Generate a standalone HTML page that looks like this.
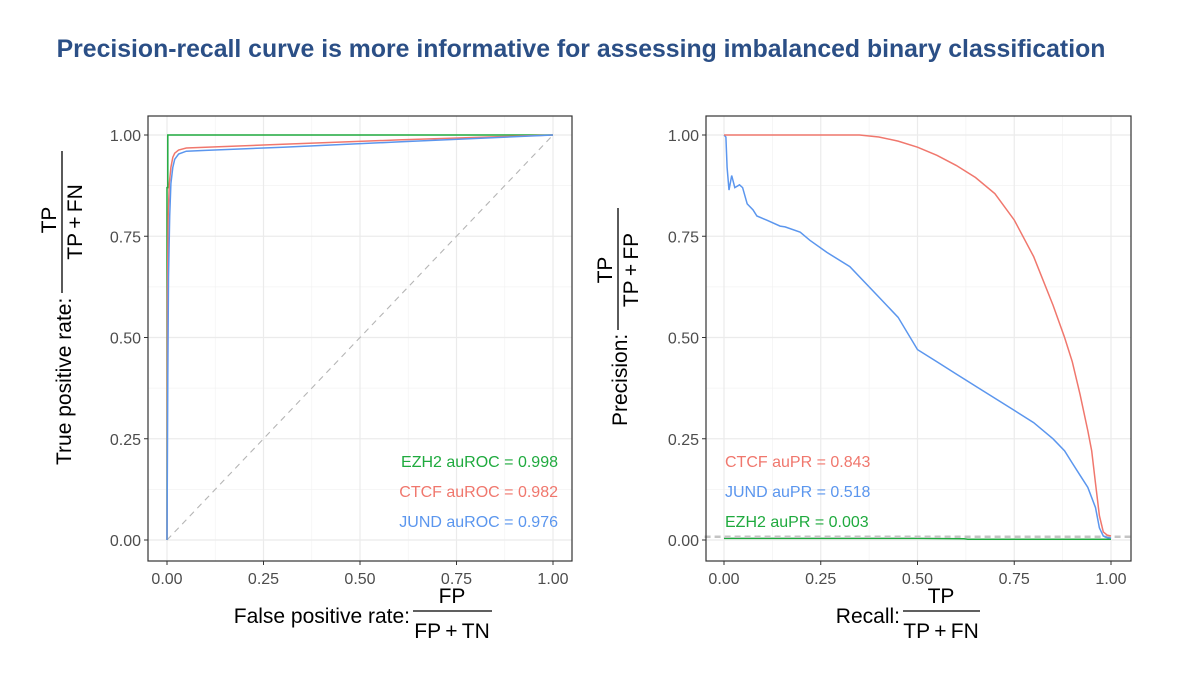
<!DOCTYPE html>
<html><head><meta charset="utf-8"><style>
body{margin:0;background:#fff;}
svg{display:block;font-family:"Liberation Sans",sans-serif;}
</style></head><body>
<svg id="c" width="1200" height="675" viewBox="0 0 1200 675">
<text x="581" y="57" text-anchor="middle" font-size="24.8" font-weight="bold" fill="#2b4f86">Precision-recall curve is more informative for assessing imbalanced binary classification</text>
<g id="roc"></g>
<g id="pr"></g>
</svg>
<script>
const ticks=[0,0.25,0.5,0.75,1];
const tickLabels=["0.00","0.25","0.50","0.75","1.00"];
const rocCtcfX=[0,0.001,0.003,0.006,0.01,0.015,0.02,0.03,0.05,0.1,0.3,0.6,1];
const rocCtcfY=[0,0.6,0.8,0.88,0.92,0.945,0.955,0.963,0.968,0.97,0.977,0.988,1];
const rocJundX=[0,0.002,0.004,0.007,0.01,0.015,0.02,0.03,0.05,0.1,0.3,0.6,1];
const rocJundY=[0,0.4,0.65,0.8,0.88,0.92,0.94,0.953,0.96,0.962,0.97,0.983,1];
const rocEzh2X=[0,0,0.002,0.002,0.01,1];
const rocEzh2Y=[0,0.87,0.87,1,1,1];
const prCtcfX=[0,0.1,0.2,0.3,0.35,0.4,0.45,0.5,0.55,0.6,0.65,0.7,0.75,0.8,0.85,0.88,0.9,0.92,0.94,0.95,0.96,0.97,0.98,0.99,1];
const prCtcfY=[1,1,1,1,1,0.995,0.985,0.97,0.95,0.925,0.895,0.855,0.79,0.7,0.58,0.5,0.44,0.36,0.27,0.22,0.14,0.06,0.02,0.012,0.01];
const prJundX=[0,0.005,0.008,0.013,0.02,0.028,0.04,0.048,0.06,0.075,0.085,0.11,0.145,0.158,0.197,0.222,0.266,0.325,0.4,0.45,0.5,0.55,0.6,0.65,0.7,0.75,0.8,0.85,0.88,0.9,0.92,0.94,0.96,0.97,0.98,0.99,1];
const prJundY=[1,0.995,0.92,0.864,0.9,0.87,0.877,0.87,0.83,0.815,0.8,0.79,0.775,0.773,0.76,0.74,0.71,0.675,0.6,0.55,0.47,0.44,0.41,0.38,0.35,0.32,0.29,0.25,0.22,0.19,0.16,0.13,0.08,0.03,0.01,0.006,0.005];
const prEzh2X=[0,0.5,0.62,0.63,0.88,1];
const prEzh2Y=[0.004,0.004,0.003,0.002,0.002,0.002];
const prBaseline=0.008;
const NS="http://www.w3.org/2000/svg";
function el(p,t,a,txt){const e=document.createElementNS(NS,t);for(const k in a)e.setAttribute(k,a[k]);if(txt!==undefined)e.textContent=txt;p.appendChild(e);return e;}
function panel(g,L,R,T,B,x0,x1,y0,y1,prefix){
 const sx=v=>x0+v*(x1-x0), sy=v=>y0+v*(y1-y0);
 const bg=el(g,'rect',{x:L,y:T,width:R-L,height:B-T,fill:'#fff'});
 
 
 for(let i=0;i<4;i++){const m=(ticks[i]+ticks[i+1])/2;
  let a=el(g,'line',{x1:sx(m),x2:sx(m),y1:T,y2:B,stroke:'#f3f3f3','stroke-width':0.8});
  
  let b=el(g,'line',{x1:L,x2:R,y1:sy(m),y2:sy(m),stroke:'#f3f3f3','stroke-width':0.8});
  }
 ticks.forEach((t,i)=>{
  let a=el(g,'line',{x1:sx(t),x2:sx(t),y1:T,y2:B,stroke:'#ebebeb','stroke-width':1.2});
  
  let b=el(g,'line',{x1:L,x2:R,y1:sy(t),y2:sy(t),stroke:'#ebebeb','stroke-width':1.2});
  
  el(g,'line',{x1:sx(t),x2:sx(t),y1:B,y2:B+4,stroke:'#333'});
  el(g,'line',{x1:L-4,x2:L,y1:sy(t),y2:sy(t),stroke:'#333'});
  let tx=el(g,'text',{x:sx(t),y:B+23,'text-anchor':'middle','font-size':16,fill:'#4d4d4d'},tickLabels[i]);
  
  let ty=el(g,'text',{x:L-7,y:sy(t)+6,'text-anchor':'end','font-size':16,fill:'#4d4d4d'},tickLabels[i]);
  
 });
 return {sx,sy};
}
function line(g,s,xs,ys,color,name,extra){
 const d=xs.map((x,i)=>(i?'L':'M')+s.sx(x).toFixed(1)+','+s.sy(ys[i]).toFixed(1)).join('');
 const p=el(g,'path',Object.assign({d:d,fill:'none',stroke:color,'stroke-width':1.5},extra||{}));
 
 
}
function frame(g,L,R,T,B,prefix){const r=el(g,'rect',{x:L,y:T,width:R-L,height:B-T,fill:'none',stroke:'#333','stroke-width':1.2});
 }
function txt(g,x,y,s,anchor,size,color,name,extra){const t=el(g,'text',Object.assign({x:x,y:y,'text-anchor':anchor,'font-size':size,fill:color},extra||{}),s);
 return t;}
const GREEN='#1faa3e',RED='#f0776d',BLUE='#5b96ee';
const TS='\u2009+\u2009';
// ROC
const g1=document.getElementById('roc');
const s1=panel(g1,148,572,116,561,167,553,540,135,'roc');
line(g1,s1,[0,1],[0,1],'#b5b5b5','roc-diagonal',{'stroke-dasharray':'6,5','stroke-width':1.1});
line(g1,s1,rocEzh2X,rocEzh2Y,GREEN,'roc-ezh2-line');
line(g1,s1,rocCtcfX,rocCtcfY,RED,'roc-ctcf-line');
line(g1,s1,rocJundX,rocJundY,BLUE,'roc-jund-line');
frame(g1,148,572,116,561,'roc');
txt(g1,558,467,'EZH2 auROC = 0.998','end',16,GREEN,'legend-ezh2-auroc');
txt(g1,558,497,'CTCF auROC = 0.982','end',16,RED,'legend-ctcf-auroc');
txt(g1,558,527,'JUND auROC = 0.976','end',16,BLUE,'legend-jund-auroc');
txt(g1,410,623,'False positive rate:','end',21,'#000','roc-x-axis-title');
txt(g1,452,603,'FP','middle',21,'#000','roc-x-fraction-numerator');
el(g1,'line',{x1:413,x2:492,y1:611,y2:611,stroke:'#000','stroke-width':1.3});
txt(g1,452,638,'FP'+TS+'TN','middle',21,'#000','roc-x-fraction-denominator');
const yl1=el(g1,'g',{transform:'translate(71,465) rotate(-90)'});
txt(yl1,0,0,'True positive rate:','start',21,'#000','roc-y-axis-title');
txt(yl1,245,-15,'TP','middle',21,'#000','roc-y-fraction-numerator');
el(yl1,'line',{x1:172,x2:314,y1:-9,y2:-9,stroke:'#000','stroke-width':1.3});
txt(yl1,243,11,'TP'+TS+'FN','middle',21,'#000','roc-y-fraction-denominator');
// PR
const g2=document.getElementById('pr');
const s2=panel(g2,706,1131,116,561,724,1111,540,135,'pr');
line(g2,s2,prEzh2X,prEzh2Y,GREEN,'pr-ezh2-line');
line(g2,s2,[-0.05,1.05],[prBaseline,prBaseline],'#c4c4c4','pr-baseline',{'stroke-dasharray':'6,4','stroke-width':2.5});
line(g2,s2,prJundX,prJundY,BLUE,'pr-jund-line');
line(g2,s2,prCtcfX,prCtcfY,RED,'pr-ctcf-line');
frame(g2,706,1131,116,561,'pr');
txt(g2,725,467,'CTCF auPR = 0.843','start',16,RED,'legend-ctcf-aupr');
txt(g2,725,497,'JUND auPR = 0.518','start',16,BLUE,'legend-jund-aupr');
txt(g2,725,527,'EZH2 auPR = 0.003','start',16,GREEN,'legend-ezh2-aupr');
txt(g2,900,623,'Recall:','end',21,'#000','pr-x-axis-title');
txt(g2,941,603,'TP','middle',21,'#000','pr-x-fraction-numerator');
el(g2,'line',{x1:903,x2:980,y1:611,y2:611,stroke:'#000','stroke-width':1.3});
txt(g2,941,638,'TP'+TS+'FN','middle',21,'#000','pr-x-fraction-denominator');
const yl2=el(g2,'g',{transform:'translate(627,426) rotate(-90)'});
txt(yl2,0,0,'Precision:','start',21,'#000','pr-y-axis-title');
txt(yl2,156,-15,'TP','middle',21,'#000','pr-y-fraction-numerator');
el(yl2,'line',{x1:96,x2:218,y1:-9,y2:-9,stroke:'#000','stroke-width':1.3});
txt(yl2,156,11,'TP'+TS+'FP','middle',21,'#000','pr-y-fraction-denominator');
</script>
</body></html>
